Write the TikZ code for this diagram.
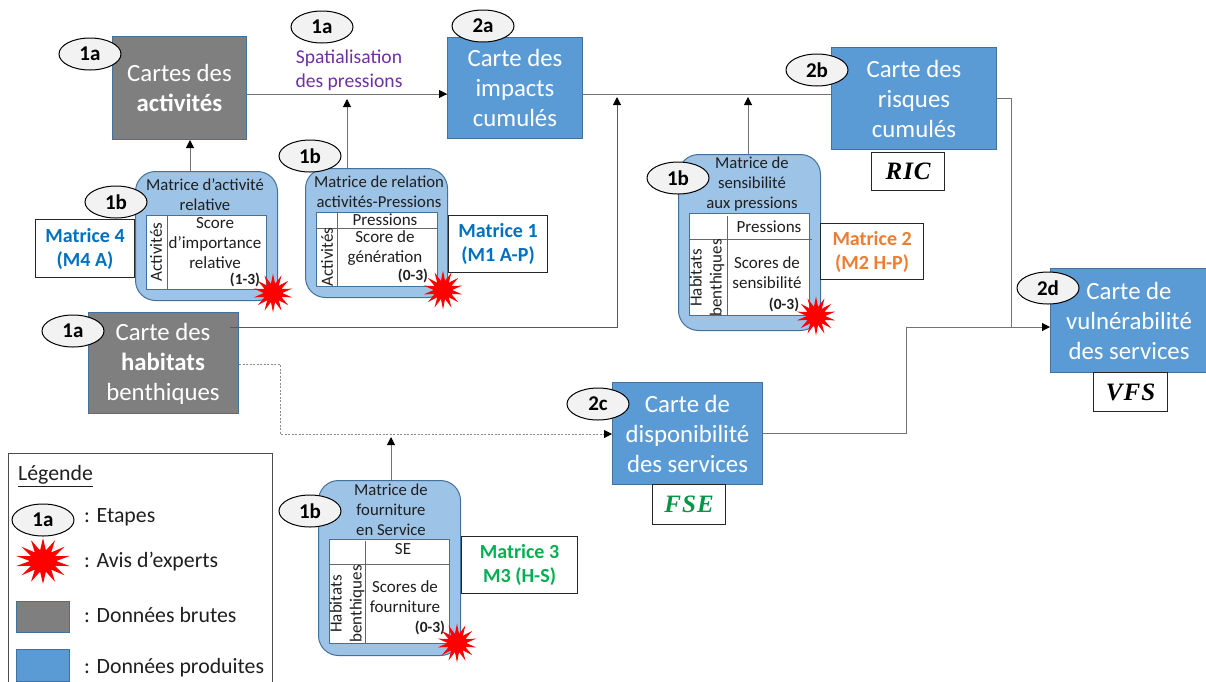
\documentclass[tikz,border=0pt]{standalone}
\usepackage{fontspec}
\setmainfont{Carlito}
\newfontfamily\ricfont[LetterSpace=4]{Liberation Serif}
\usetikzlibrary{shapes.geometric,arrows.meta}
\definecolor{cBlue}{HTML}{5B9BD5}
\definecolor{cEdge}{HTML}{41719C}
\definecolor{cGray}{HTML}{7F7F7F}
\definecolor{cLight}{HTML}{9DC3E6}
\definecolor{cOval}{HTML}{F2F2F2}
\definecolor{cPurple}{HTML}{7030A0}
\definecolor{cM1}{HTML}{0070C0}
\definecolor{cM2}{HTML}{ED7D31}
\definecolor{cM3}{HTML}{00B050}
\definecolor{cText}{HTML}{1F1F1F}
\tikzset{
 mapbox/.style={draw=cEdge,line width=1pt,fill=#1,text=white,align=center,inner sep=0pt,font=\fontsize{24.8}{30}\selectfont},
 maptext/.style={text=white,align=center,inner sep=0pt,font=\fontsize{24.8}{30}\selectfont},
 tagbox/.style={draw=black!85,line width=1.2pt,fill=white,align=center,inner sep=0pt},
 matbox/.style={draw=cEdge,line width=1pt,fill=cLight,rounded corners=20pt},
 tabbox/.style={draw=cEdge,line width=1pt,fill=white},
 tabrule/.style={draw=black!60,line width=.8pt},
 oval/.style={ellipse,draw=black,line width=1pt,fill=cOval,minimum width=62pt,minimum height=32pt,inner sep=0pt,font=\fontsize{21}{21}\selectfont\bfseries},
 burst/.style={star,star points=14,star point ratio=2.1,fill=red,draw=none,minimum size=#1,inner sep=0pt},
 lab/.style={align=center,text=cText,inner sep=0pt,font=\fontsize{16.7}{20}\selectfont},
 tab/.style={align=center,text=cText,inner sep=0pt,font=\fontsize{17}{20}\selectfont},
 rng/.style={text=cText,inner sep=0pt,font=\fontsize{15.5}{15.5}\selectfont\bfseries},
 mname/.style={align=center,inner sep=0pt,font=\fontsize{20}{24}\selectfont\bfseries},
 ric/.style={inner sep=0pt,font=\ricfont\fontsize{25}{25}\selectfont\bfseries\itshape},
 conn/.style={draw=black!55,line width=1pt},
 arr/.style={conn,-{Triangle[black,length=8pt,width=8pt]}},
 dots/.style={draw=black!45,line width=1pt,dash pattern=on 2pt off 1.5pt,-{Triangle[black,length=8pt,width=8pt]}},
 leg/.style={anchor=west,inner sep=0pt,text=cText,font=\fontsize{21.8}{21.8}\selectfont},
}
\newcommand{\bx}[6]{\node[#1,minimum width=#4pt-#2pt,minimum height=#5pt-#3pt,anchor=north west] (#6) at (#2,#3)}
\begin{document}
\begin{tikzpicture}[x=1pt,y=-1pt]
\useasboundingbox (0,0) rectangle (1206,681);
% matrices
\bx{matbox}{135}{171}{277}{300}{m4} {};
\bx{matbox}{305}{168}{447}{297}{m1} {};
\bx{matbox}{678}{154}{820}{330}{m2} {};
\bx{matbox}{318}{480}{460}{655}{m3} {};
% map boxes
\bx{mapbox=cGray}{112}{36}{246}{139}{act} {Cartes des\\\textbf{activités}};
\bx{mapbox=cBlue}{447}{37}{582}{138}{imp} {Carte des\\impacts\\cumulés};
\bx{mapbox=cBlue}{831}{47}{996}{149}{ris} {Carte des\\risques\\cumulés};
\bx{mapbox=cGray}{88}{312}{238}{413}{hab} {};
\node[maptext] (habt) at (163,364) {Carte des\\\textbf{habitats}\\benthiques};
\bx{mapbox=cBlue}{612}{382}{762}{484}{dis} {Carte de\\disponibilité\\des services};
\bx{mapbox=cBlue}{1050}{268}{1207}{372}{vul} {Carte de\\vulnérabilité\\des services};
% free connector ends
\coordinate (j1) at (347,99);
\coordinate (j2) at (617,97);
\coordinate (j3) at (748,97);
\coordinate (j4) at (391,437);
% connectors
\draw[conn] (act.east |- 0,94) -- (imp.west |- 0,94);
\draw[arr] (430,94) -- (imp.west |- 0,94);
\draw[arr] (m4.north -| 190,0) -- (act.south -| 190,0);
\draw[arr] (m1.north -| j1) -- (j1);
\draw[conn] (imp.east |- 0,94) -- (ris.west |- 0,94);
\draw[arr] (m2.north -| j3) -- (j3);
\draw[arr,draw=black!65] (230,327) -- (617,327) -- (j2);
\draw[conn] (ris.east |- 0,98) -- (1011,98) -- (1011,327);
\draw[arr] (dis.east |- 0,433) -- (906,433) -- (906,327) -- (vul.west |- 0,327);
\draw[dots] (hab.east |- 0,364) -- (280,364) -- (280,434) -- (dis.west |- 0,434);
\draw[arr] (m3.north -| j4) -- (j4);
% tables
\bx{tabbox}{146}{215}{266}{289}{t4} {};
\draw[tabrule] (167,215) -- (167,289);
\node[tab,rotate=90] (t4a) at (156,252) {Activités};
\node[tab] (t4b) at (215,243) {Score\\d’importance\\relative};
\node[rng] (t4c) at (245,280) {(1-3)};
\bx{tabbox}{316}{212}{437}{286}{t1} {};
\draw[tabrule] (337,212) -- (337,286);
\draw[tabrule] (316,228) -- (438,228);
\node[tab] (t1p) at (385,220) {Pressions};
\node[tab,rotate=90] (t1a) at (327,257) {Activités};
\node[tab] (t1b) at (385,248) {Score de\\génération};
\node[rng] (t1c) at (413,276) {(0-3)};
\bx{tabbox}{689}{213}{809}{315}{t2} {};
\draw[tabrule] (727,216) -- (727,316);
\draw[tabrule] (689,239) -- (812,239);
\node[tab] (t2p) at (769,227) {Pressions};
\node[tab,rotate=90] (t2a) at (707,278) {Habitats\\benthiques};
\node[tab] (t2b) at (767,273) {Scores de\\sensibilité};
\node[rng] (t2c) at (784,305) {(0-3)};
\bx{tabbox}{329}{539}{449}{643}{t3} {};
\draw[tabrule] (365,541) -- (365,643);
\draw[tabrule] (329,564) -- (449,564);
\node[tab] (t3p) at (403,549) {SE};
\node[tab,rotate=90] (t3a) at (347,604) {Habitats\\benthiques};
\node[tab] (t3b) at (405,597) {Scores de\\fourniture};
\node[rng] (t3c) at (430,628) {(0-3)};
% matrix titles
\node[lab] (h4) at (205,195) {Matrice d’activité\\relative};
\node[lab] (h1) at (379,192) {Matrice de relation\\activités-Pressions};
\node[lab] (h2) at (752,184) {Matrice de\\sensibilité\\aux pressions};
\node[lab] (h3) at (391,510) {Matrice de\\fourniture\\en Service};
% purple label
\node[align=center,text=cPurple,inner sep=0pt,font=\fontsize{19.6}{24}\selectfont] (sp) at (349,70) {Spatialisation\\des pressions};
% tags
\bx{tagbox,mname,text=cM1}{35}{219}{134}{277}{n4} {Matrice 4\\(M4 A)};
\bx{tagbox,mname,text=cM1}{448}{215}{547}{272}{n1} {Matrice 1\\(M1 A-P)};
\bx{tagbox,mname,text=cM2}{820}{223}{923}{279}{n2} {Matrice 2\\(M2 H-P)};
\bx{tagbox,mname,text=cM3}{461}{536}{577}{593}{n3} {Matrice 3\\M3 (H-S)};
\bx{tagbox,ric}{871}{152}{944}{190}{ri} {RIC};
\bx{tagbox,ric}{1093}{372}{1167}{411}{vf} {VFS};
\bx{tagbox,ric,text=cM3!85!black}{652}{484}{725}{524}{fs} {FSE};
% bursts
\node[burst=39pt] (b4) at (273,293) {};
\node[burst=39pt] (b1) at (443,290) {};
\node[burst=39pt] (b2) at (816,316) {};
\node[burst=39pt] (b3) at (457,643) {};
% ovals
\node[oval] (o1) at (90,54) {1a};
\node[oval] (o2) at (322,27) {1a};
\node[oval] (o3) at (483,26) {2a};
\node[oval] (o4) at (817,70) {2b};
\node[oval] (o5) at (116,202) {1b};
\node[oval] (o6) at (310,156) {1b};
\node[oval] (o7) at (678,178) {1b};
\node[oval] (o8) at (73,331) {1a};
\node[oval] (o9) at (598,404) {2c};
\node[oval] (o10) at (1048,288) {2d};
\node[oval] (o11) at (310,511) {1b};
% legend
\draw[line width=1pt,draw=black!70] (8,453) -- (272,453) -- (272,682) -- (8,682) -- cycle;
\node[leg] (l0) at (18,476) {\underline{Légende}};
\node[oval] (lo) at (43,520) {1a};
\node[leg] (l1) at (84,517) {: Etapes};
\begin{scope}[xscale=1.2]
\node[burst=46pt,transform shape] (lb) at (43/1.2,561) {};
\end{scope}
\node[leg] (l2) at (84,562) {: Avis d’experts};
\bx{mapbox=cGray}{16}{601}{69}{632}{lr1} {};
\node[leg] (l3) at (84,615) {: Données brutes};
\bx{mapbox=cBlue}{16}{649}{69}{681}{lr2} {};
\node[leg] (l4) at (84,668) {: Données produites};
\end{tikzpicture}
\end{document}
